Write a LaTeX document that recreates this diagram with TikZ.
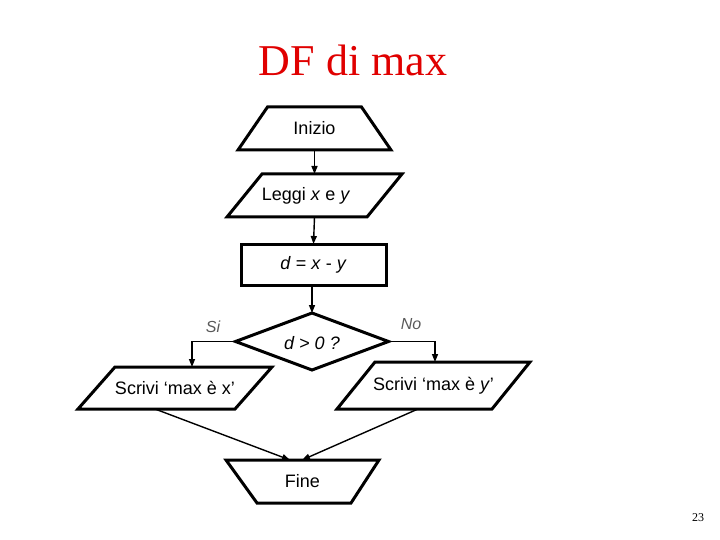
\documentclass[tikz,border=0pt]{standalone}
\usepackage{fontspec}
\setmainfont{Liberation Serif}
\newfontfamily\arial{Liberation Sans}
\usetikzlibrary{shapes.geometric,arrows.meta,calc}
\definecolor{titlered}{RGB}{224,0,0}
\begin{document}
\begin{tikzpicture}[x=1pt,y=-1pt,
  frame/.style={rectangle, inner sep=0pt, outer sep=0pt, font=\arial\fontsize{18}{20}\selectfont},
  box/.style={draw, line width=3pt, line join=miter},
  conn/.style={line width=1.4pt, -{Triangle[length=8pt,width=6pt]}},
  lbl/.style={font=\arial\itshape\fontsize{16}{18}\selectfont, text=black!65}]
\useasboundingbox (0,0) rectangle (720,540);

\node[font=\fontsize{44}{48}\selectfont, text=titlered] (title) at (353,60) {DF di max};

% Inizio (trapezium, narrow top)
\node[frame, minimum width=153pt, minimum height=43pt] (inizio) at (314.5,128.5) {Inizio};
\draw[box] (inizio.south west) -- (inizio.south east)
  -- ([xshift=-29.5pt]inizio.north east) -- ([xshift=29.5pt]inizio.north west) -- cycle;

% Leggi (parallelogram)
\node[frame, minimum width=175pt, minimum height=43pt] (leggi) at (314.5,195.5) {};
\draw[box] (leggi.south west) -- ([xshift=-35pt]leggi.south east)
  -- (leggi.north east) -- ([xshift=35pt]leggi.north west) -- cycle;
\node[frame] (leggitext) at (306,195.5) {Leggi \textit{x} e \textit{y}};

% d = x - y (rectangle)
\node[frame, draw, line width=3pt, minimum width=145pt, minimum height=41pt] (calc) at (313.5,264.5)
      {\textit{d} = \textit{x} - \textit{y}};

% decision
\node[frame, minimum width=153pt, minimum height=57pt] (dia) at (312,341.5) {};
\draw[box] (dia.west) -- (dia.north) -- (dia.east) -- (dia.south) -- cycle;
\node[frame, font=\arial\itshape\fontsize{18}{20}\selectfont] (diatext) at (312,343) {d > 0 ?};

% Scrivi max x
\node[frame, minimum width=194pt, minimum height=42pt] (scx) at (175,388) {Scrivi ‘max è x’};
\draw[box] (scx.south west) -- ([xshift=-37pt]scx.south east)
  -- (scx.north east) -- ([xshift=37pt]scx.north west) -- cycle;

% Scrivi max y
\node[frame, minimum width=193pt, minimum height=47pt] (scy) at (433.5,385.5) {Scrivi ‘max è \textit{y}’};
\draw[box] (scy.south west) -- ([xshift=-38pt]scy.south east)
  -- (scy.north east) -- ([xshift=38pt]scy.north west) -- cycle;

% Fine (trapezium, narrow bottom)
\node[frame, minimum width=153pt, minimum height=43pt] (fine) at (302.5,481.5) {Fine};
\draw[box] (fine.north west) -- (fine.north east)
  -- ([xshift=-28pt]fine.south east) -- ([xshift=31pt]fine.south west) -- cycle;

\node[lbl] (si) at (213,327) {Si};
\node[lbl] (no) at (411,324) {No};

\node[font=\fontsize{12}{14}\selectfont] (page) at (698,518) {23};

\draw[conn] (inizio.south) -- (leggi.north);
\draw[conn] (leggi.south) -- (calc.north);
\draw[conn] (calc.south -| dia.north) -- (dia.north);
\draw[conn] (dia.west) -| ($(scx.north west)+(114,0)$);
\draw[conn] (dia.east) -| ($(scy.north west)+(98,0)$);
\draw[conn] ($(scx.south west)+(77,0)$) -- ($(fine.north west)+(64,0)$);
\draw[conn] ($(scy.south west)+(81,0)$) -- ($(fine.north west)+(76,0)$);
\end{tikzpicture}
\end{document}
